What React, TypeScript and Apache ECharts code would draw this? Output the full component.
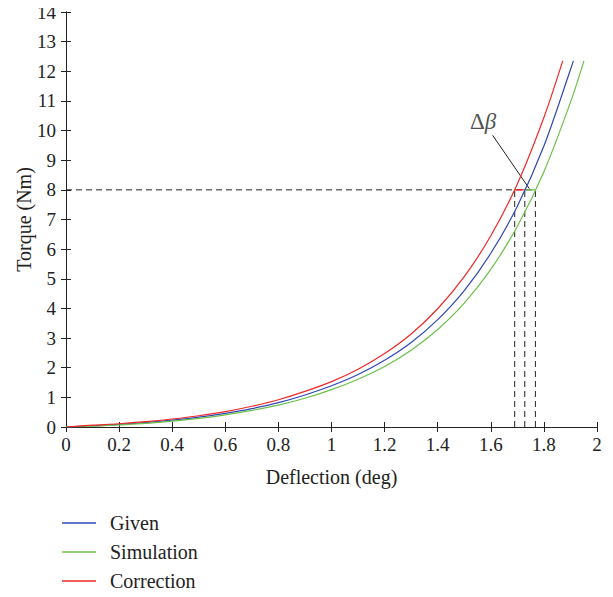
import React, { useEffect, useRef } from "react";
import * as echarts from "echarts";

const xGiven = [0, 0.1, 0.2, 0.3, 0.4, 0.5, 0.6, 0.7, 0.8, 0.9, 1.0, 1.1, 1.2, 1.3, 1.4, 1.5, 1.6, 1.7, 1.8, 1.9, 1.911];
const yGiven = [0, 0.04, 0.09, 0.15, 0.23, 0.33, 0.46, 0.62, 0.82, 1.08, 1.39, 1.77, 2.25, 2.85, 3.62, 4.6, 5.86, 7.45, 9.48, 12.05, 12.35];

const xSim = [0, 0.1, 0.2, 0.3, 0.4, 0.5, 0.6, 0.7, 0.8, 0.9, 1.0, 1.1, 1.2, 1.3, 1.4, 1.5, 1.6, 1.7, 1.8, 1.9, 1.951];
const ySim = [0, 0.025, 0.07, 0.12, 0.2, 0.29, 0.41, 0.56, 0.74, 0.97, 1.26, 1.61, 2.04, 2.59, 3.29, 4.18, 5.32, 6.77, 8.61, 10.95, 12.35];

const xCorr = [0, 0.1, 0.2, 0.3, 0.4, 0.5, 0.6, 0.7, 0.8, 0.9, 1.0, 1.1, 1.2, 1.3, 1.4, 1.5, 1.6, 1.7, 1.8, 1.871];
const yCorr = [0, 0.06, 0.11, 0.18, 0.27, 0.38, 0.52, 0.7, 0.92, 1.2, 1.53, 1.95, 2.48, 3.14, 3.99, 5.07, 6.45, 8.2, 10.44, 12.35];

const refTorque = 8;
const crossCorr = 1.69;
const crossGiven = 1.728;
const crossSim = 1.768;

const annotStart = [1.607, 9.84];
const annotEnd = [1.745, 8.04];
const annotText = [1.571, 10.3];

const seriesNames = ["Given", "Simulation", "Correction"];
const seriesColors = ["#2f47b5", "#6cc04a", "#f02828"];

const pairs = (xs: number[], ys: number[]) => xs.map((x, i) => [x, ys[i]]);

export default function App() {
  const ref = useRef<HTMLDivElement>(null);
  useEffect(() => {
    if (!ref.current) return;
    const chart = echarts.init(ref.current, null, { renderer: "svg" });
    const font = "'Liberation Serif', 'DejaVu Serif', serif";
    const axisLine = { show: true, lineStyle: { color: "#222", width: 1 } };
    const tick = { show: true, inside: true, length: 5, lineStyle: { color: "#222" } };
    const dash = { color: "#222", width: 1, type: [6, 4] as any };
    const plain = (name: string, data: number[][], lineStyle: any) => ({
      name,
      type: "line",
      data,
      symbol: "none",
      silent: true,
      lineStyle,
      z: 1,
    });
    const legendTops = [508, 537, 566];
    chart.setOption({
      animation: false,
      backgroundColor: "#fff",
      textStyle: { fontFamily: font },
      grid: { left: 66, right: 16, top: 12, bottom: 170 },
      legend: seriesNames.map((n, i) => ({
        orient: "vertical",
        left: 57,
        top: legendTops[i],
        data: [n],
        icon: "rect",
        itemWidth: 34,
        itemHeight: 1.5,
        selectedMode: false,
        textStyle: { fontFamily: font, fontSize: 20, color: "#222", lineHeight: 20, padding: [0, 0, 0, 9] },
      })),
      xAxis: [
        {
          type: "value",
          min: 0,
          max: 2,
          interval: 0.2,
          axisLine,
          axisTick: tick,
          splitLine: { show: false },
          axisLabel: { fontFamily: font, fontSize: 19, color: "#222", margin: 8 },
          name: "Deflection (deg)",
          nameLocation: "middle",
          nameGap: 40,
          nameMoveOverlap: false,
          nameTextStyle: { fontFamily: font, fontSize: 20, color: "#222" },
        },
        {
          type: "value",
          position: "top",
          min: 0,
          max: 2,
          interval: 0.2,
          axisLine,
          axisTick: tick,
          splitLine: { show: false },
          axisLabel: { show: false },
        },
      ],
      yAxis: [
        {
          type: "value",
          min: 0,
          max: 14,
          interval: 1,
          axisLine,
          axisTick: tick,
          splitLine: { show: false },
          axisLabel: { fontFamily: font, fontSize: 19, color: "#222", margin: 10 },
          name: "Torque (Nm)",
          nameLocation: "middle",
          nameGap: 32,
          nameMoveOverlap: false,
          nameTextStyle: { fontFamily: font, fontSize: 20, color: "#222" },
        },
        {
          type: "value",
          position: "right",
          min: 0,
          max: 14,
          interval: 1,
          axisLine,
          axisTick: tick,
          splitLine: { show: false },
          axisLabel: { show: false },
        },
      ],
      series: [
        plain("dash-h", [[0, refTorque], [crossSim, refTorque]], dash),
        plain("dash-v1", [[crossCorr, 0], [crossCorr, refTorque]], dash),
        plain("dash-v2", [[crossGiven, 0], [crossGiven, refTorque]], dash),
        plain("dash-v3", [[crossSim, 0], [crossSim, refTorque]], dash),
        plain("seg-red", [[crossCorr, refTorque], [crossGiven, refTorque]], { color: seriesColors[2], width: 1.2 }),
        plain("seg-green", [[crossGiven, refTorque], [crossSim, refTorque]], { color: seriesColors[1], width: 1.2 }),
        plain("annot", [annotStart, annotEnd], { color: "#222", width: 1 }),
        ...[pairs(xGiven, yGiven), pairs(xSim, ySim), pairs(xCorr, yCorr)].map((d, i) => ({
          name: seriesNames[i],
          type: "line",
          data: d,
          smooth: 0.3,
          symbol: "none",
          color: seriesColors[i],
          lineStyle: { width: 1.2, color: seriesColors[i] },
          z: 3,
        })),
        {
          name: "label",
          type: "scatter",
          data: [annotText],
          symbolSize: 0,
          silent: true,
          label: {
            show: true,
            position: "inside",
            formatter: "{a|Δ}{b|β}",
            rich: {
              a: { fontFamily: font, fontSize: 23, color: "#222" },
              b: { fontFamily: font, fontSize: 23, fontStyle: "italic", color: "#222" },
            },
          },
        },
      ],
    });
    return () => chart.dispose();
  }, []);
  return <div ref={ref} style={{ width: 613, height: 597, margin: -8 }} />;
}
